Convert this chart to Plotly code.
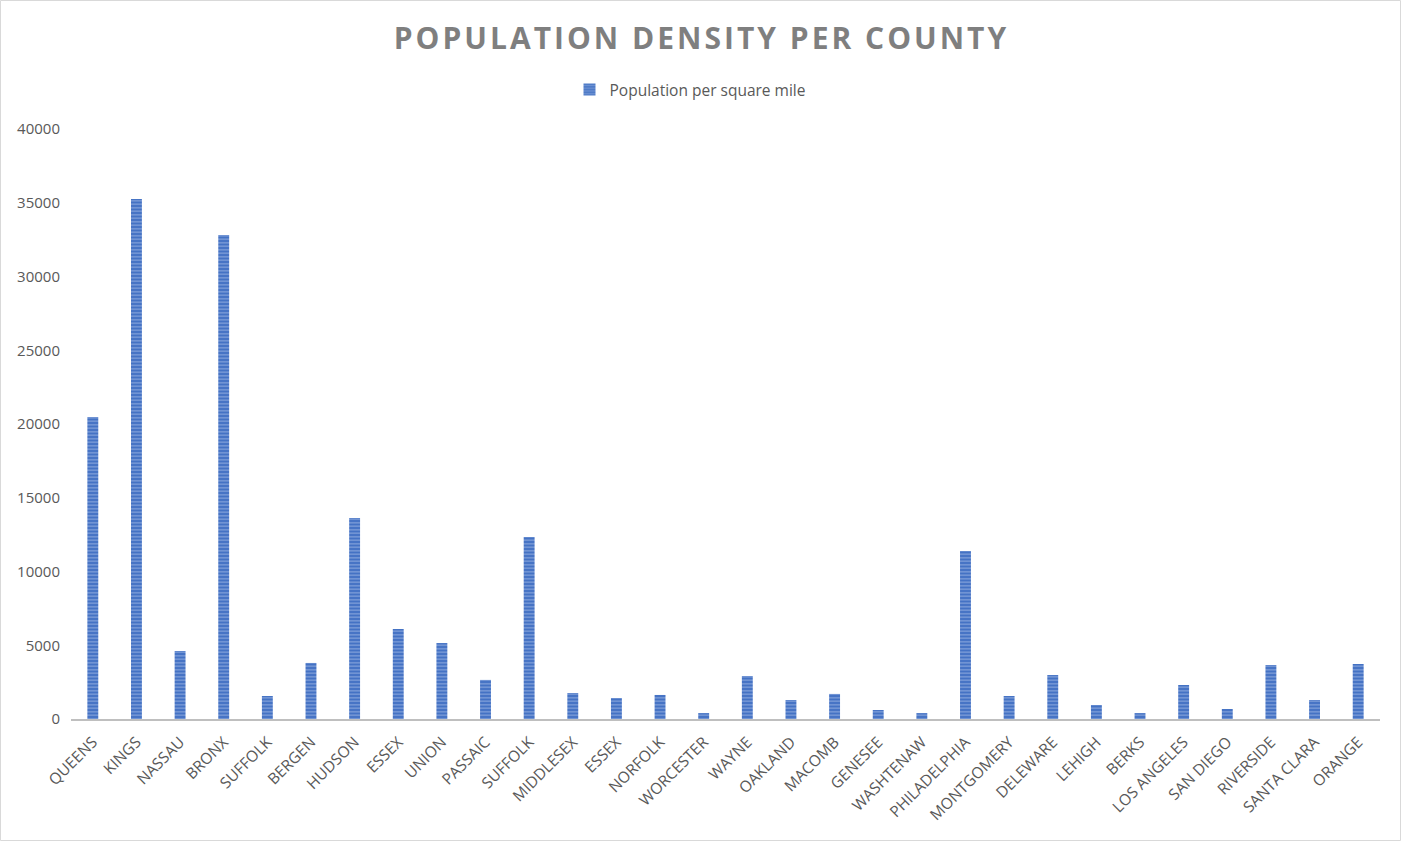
import plotly.graph_objects as go

counties = ["QUEENS", "KINGS", "NASSAU", "BRONX", "SUFFOLK", "BERGEN", "HUDSON", "ESSEX",
            "UNION", "PASSAIC", "SUFFOLK ", "MIDDLESEX", "ESSEX ", "NORFOLK", "WORCESTER",
            "WAYNE", "OAKLAND", "MACOMB", "GENESEE", "WASHTENAW", "PHILADELPHIA",
            "MONTGOMERY", "DELEWARE", "LEHIGH", "BERKS", "LOS ANGELES", "SAN DIEGO",
            "RIVERSIDE", "SANTA CLARA", "ORANGE"]
density = [20475, 35250, 4610, 32810, 1560, 3800, 13630, 6100,
           5150, 2650, 12340, 1760, 1420, 1630, 400,
           2915, 1290, 1700, 610, 400, 11390,
           1560, 2980, 950, 400, 2305, 680,
           3660, 1290, 3730]
y_ticks = [0, 5000, 10000, 15000, 20000, 25000, 30000, 35000, 40000]
title_text = "POPULATION DENSITY PER COUNTY"

W, H = 1402, 842
ml, mr, mt, mb = 71, 22, 129, 123

spaced_title = "\u200a".join(title_text)

fig = go.Figure()
fig.add_trace(go.Bar(
    x=list(range(len(counties))), y=density, name="Population per square mile",
    marker=dict(color="#4472C4", line=dict(width=0),
                pattern=dict(shape="-", fgcolor="#9DB5E3", bgcolor="#4472C4",
                             size=3.5, solidity=0.5, fillmode="overlay")),
    showlegend=True,
))

fig.update_layout(
    width=W, height=H,
    margin=dict(l=ml, r=mr, t=mt, b=mb),
    paper_bgcolor="white", plot_bgcolor="white",
    font=dict(family="Open Sans", color="#595959", size=14),
    title=dict(text="<b>" + spaced_title + "</b>", x=700 / W, xanchor="center", xref="container",
               y=1 - 38 / H, yanchor="middle",
               font=dict(family="Open Sans", size=30, color="#7F7F7F")),
    legend=dict(orientation="h", x=690 / W, xanchor="center", xref="container",
                y=1 - 90 / H, yref="container",
                yanchor="middle", font=dict(size=15.5, color="#595959"),
                itemwidth=30),
    bargap=0.75,
    xaxis=dict(tickmode="array", tickvals=list(range(len(counties))),
               ticktext=[c.strip() for c in counties], tickangle=-45,
               showline=True, linecolor="#BFBFBF", linewidth=2, showgrid=False,
               ticks="", range=[-0.5, len(counties) - 0.5], ticklabelstandoff=6,
               tickfont=dict(size=15.5, color="#595959")),
    yaxis=dict(range=[0, 40000], tickvals=y_ticks, tickformat="d", showgrid=False,
               zeroline=False, showline=False, ticks="", ticklabelstandoff=10,
               tickfont=dict(size=15, color="#595959")),
    shapes=[dict(type="rect", xref="paper", yref="paper",
                 x0=-(ml - 0.5) / (W - ml - mr), x1=1 + (mr - 1.5) / (W - ml - mr),
                 y0=-(mb - 1.5) / (H - mt - mb), y1=1 + (mt - 0.5) / (H - mt - mb),
                 line=dict(color="#D9D9D9", width=1), layer="below")],
)

fig.write_html("out.html")
